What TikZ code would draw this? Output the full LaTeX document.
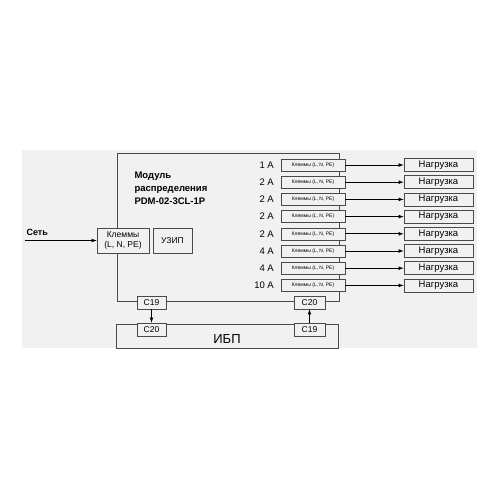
\documentclass[tikz,border=0pt]{standalone}
\usepackage{fontspec}
\setmainfont{Liberation Sans}
\usepackage{tikz}
\usetikzlibrary{positioning}
\definecolor{bgrey}{HTML}{F1F1F1}
\definecolor{lgrey}{HTML}{4A4A4A}

\begin{document}
\begin{tikzpicture}[x=1pt,y=-1pt]
%,shorten >=1pt, thin]
 \useasboundingbox (0,0) rectangle (500,500);
 \fill[bgrey] (22,150) rectangle (477,348);
 % module frame and UPS
 \draw[lgrey, line width=0.75pt] (117,153) rectangle (339,301);
 \draw[lgrey, line width=0.75pt] (116,324) rectangle (338,348);
 \node (ups) at (227,339.5) {\fontsize{13}{15}\selectfont ИБП};
 \node[anchor=north west, align=left, font=\fontsize{9.5}{13}\selectfont\bfseries] (title) at (131,168) {Модуль\\распределения\\PDM-02-3CL-1P};
 \coordinate (net) at (25,240.5);
 \node[anchor=south west, font=\fontsize{9}{10}\selectfont\bfseries] (netl) at (23,239) {Сеть};
 \begin{scope}[every node/.style={draw=lgrey, fill=bgrey, line width=0.75pt, inner sep=0pt, align=center}]
   \node (kin) [minimum width=52, minimum height=25, font=\fontsize{8.5}{10}\selectfont] at (123,240.5) {Клеммы\\(L, N, PE)};
   \node (uzip) [minimum width=39, minimum height=25, font=\fontsize{8.5}{10}\selectfont] at (172.5,240.5) {УЗИП};
   \node (c19m) [minimum width=29, minimum height=13, font=\fontsize{8.5}{10}\selectfont] at (151.5,302.5) {C19};
   \node (c20m) [minimum width=31, minimum height=13, font=\fontsize{8.5}{10}\selectfont] at (309.5,302.5) {C20};
   \node (c20u) [minimum width=29, minimum height=13, font=\fontsize{8.5}{10}\selectfont] at (151.5,329.5) {C20};
   \node (c19u) [minimum width=31, minimum height=13, font=\fontsize{8.5}{10}\selectfont] at (309.5,329.5) {C19};
 \end{scope}
 \begin{scope}[every node/.style={draw=lgrey, fill=bgrey, line width=0.6pt, inner sep=0pt, minimum width=64, minimum height=12, font=\fontsize{5}{6}\selectfont}]
   \node (k1) at (313,165) {Клеммы (L, N, PE)};
   \node (k2) at (313,182.2) {Клеммы (L, N, PE)};
   \node (k3) at (313,199.4) {Клеммы (L, N, PE)};
   \node (k4) at (313,216.6) {Клеммы (L, N, PE)};
   \node (k5) at (313,233.8) {Клеммы (L, N, PE)};
   \node (k6) at (313,251) {Клеммы (L, N, PE)};
   \node (k7) at (313,268.2) {Клеммы (L, N, PE)};
   \node (k8) at (313,285.4) {Клеммы (L, N, PE)};
 \end{scope}
 \begin{scope}[every node/.style={draw=lgrey, fill=bgrey, line width=0.75pt, inner sep=0pt, minimum width=69, minimum height=13, font=\fontsize{9.5}{11}\selectfont}]
   \node (n1) at (438.5,165) {Нагрузка};
   \node (n2) at (438.5,182.2) {Нагрузка};
   \node (n3) at (438.5,199.4) {Нагрузка};
   \node (n4) at (438.5,216.6) {Нагрузка};
   \node (n5) at (438.5,233.8) {Нагрузка};
   \node (n6) at (438.5,251) {Нагрузка};
   \node (n7) at (438.5,268.2) {Нагрузка};
   \node (n8) at (438.5,285.4) {Нагрузка};
 \end{scope}
 \begin{scope}[every node/.style={anchor=east, inner sep=0pt, font=\fontsize{9.5}{11}\selectfont}]
   \node (a1) at (274,165) {1 A};
   \node (a2) at (274,182.2) {2 A};
   \node (a3) at (274,199.4) {2 A};
   \node (a4) at (274,216.6) {2 A};
   \node (a5) at (274,233.8) {2 A};
   \node (a6) at (274,251) {4 A};
   \node (a7) at (274,268.2) {4 A};
   \node (a8) at (274,285.4) {10 A};
 \end{scope}
 \begin{scope}[every edge/.style={draw=black, line width=0.75pt, -latex}]
   \draw (net) edge (kin);
   \draw (k1) edge (n1);
   \draw (k2) edge (n2);
   \draw (k3) edge (n3);
   \draw (k4) edge (n4);
   \draw (k5) edge (n5);
   \draw (k6) edge (n6);
   \draw (k7) edge (n7);
   \draw (k8) edge (n8);
   \draw (c19m) edge (c20u);
   \draw (c19u) edge (c20m);
 \end{scope}
\end{tikzpicture}
\end{document}
